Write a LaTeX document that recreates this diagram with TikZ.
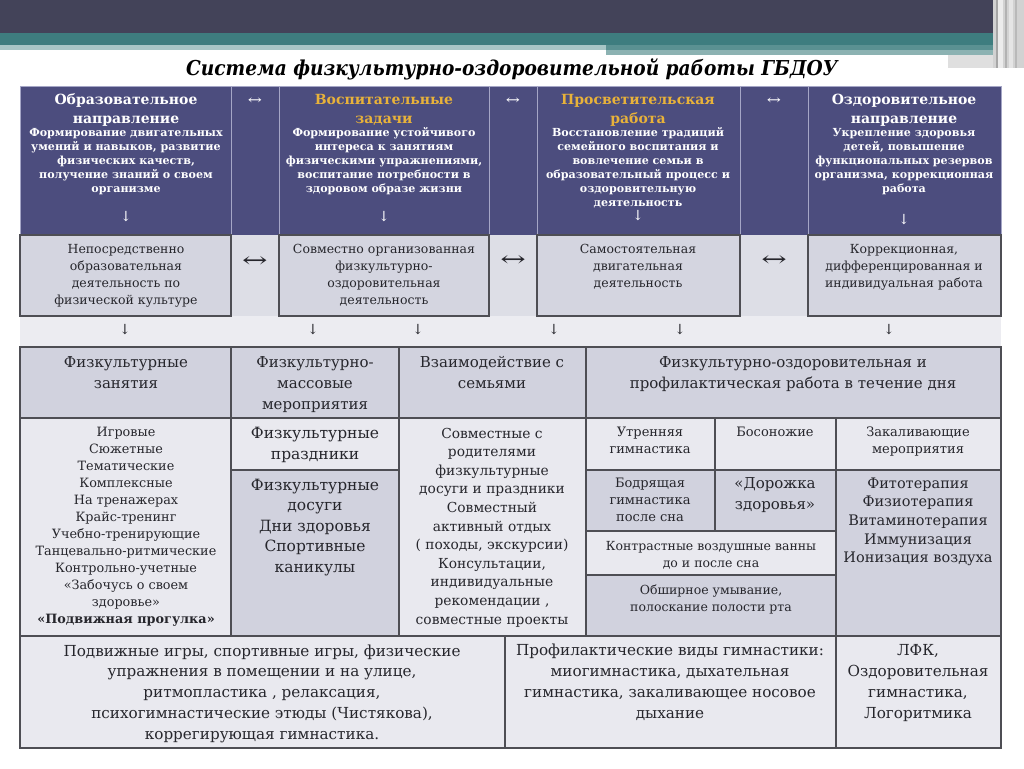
\documentclass[tikz,border=0pt]{standalone}
\usepackage{fontspec}
\setmainfont{DejaVu Serif}
\definecolor{darkbar}{RGB}{67,67,89}
\definecolor{tealD}{RGB}{62,125,127}
\definecolor{tealL}{RGB}{168,198,198}
\definecolor{tealM}{RGB}{140,178,178}
\definecolor{purp}{RGB}{76,77,126}
\definecolor{purpline}{RGB}{165,166,198}
\definecolor{gold}{RGB}{232,178,58}
\definecolor{cellA}{RGB}{212,213,224}
\definecolor{cellB}{RGB}{233,233,239}
\definecolor{cellC}{RGB}{209,210,222}
\definecolor{arrowbg}{RGB}{236,236,241}
\definecolor{gapbg}{RGB}{221,222,230}
\definecolor{bord}{RGB}{78,78,84}
\definecolor{ink}{RGB}{38,38,44}
\newcommand\fsz[2]{\fontsize{#1}{#2}\selectfont}
\newcommand\cellbox[6]{\node[#6, minimum width={(#4-#2)*1pt}, minimum height={(#5-#3)*1pt}, anchor=north west] (#1) at (#2,#3) {};}
\tikzset{
  pcell/.style={fill=purp, draw=purpline, line width=0.9pt, inner sep=0pt, outer sep=0pt},
  gcell/.style={fill=gapbg, inner sep=0pt, outer sep=0pt},
  acell/.style={fill=cellA, draw=bord, line width=1.2pt, inner sep=0pt, outer sep=0pt},
  lcell/.style={fill=cellB, draw=bord, line width=1.2pt, inner sep=0pt, outer sep=0pt},
  dcell/.style={fill=cellC, draw=bord, line width=1.2pt, inner sep=0pt, outer sep=0pt},
  tx/.style={anchor=base, align=center, inner sep=0pt, text=ink},
  hwhite/.style={tx, text=white, font=\fsz{14}{19}\bfseries},
  hgold/.style={tx, text=gold, font=\fsz{14}{19}\bfseries},
  hsub/.style={tx, text=white, font=\fsz{11.1}{14}\bfseries},
  harw/.style={tx, text=white, font=\fsz{14}{16}},
  rtwo/.style={tx, font=\fsz{12.5}{17}},
  rarw/.style={tx, font=\fsz{21}{22}},
  darw/.style={tx, font=\fsz{14}{16}},
  rhead/.style={tx, font=\fsz{15}{21}},
}
\begin{document}
\begin{tikzpicture}[x=1pt,y=-1pt]
\useasboundingbox (0,0) rectangle (1024,768);
\fill[white] (0,0) rectangle (1024,768);
% top decoration
\fill[darkbar] (0,0) rectangle (1024,33);
\fill[tealD] (0,33) rectangle (1024,45);
\fill[tealL] (0,45) rectangle (606,50);
\fill[tealD!85!white] (606,45) rectangle (1024,50);
\fill[tealM] (606,50) rectangle (1006,55);
\fill[white] (606,55) rectangle (948,58);
\fill[gray!25] (948,55) rectangle (1006,68);
\fill[gray!35] (993,0) rectangle (1024,68);
\fill[gray!70] (996,0) rectangle (998,68);
\fill[gray!15] (998,0) rectangle (1003,68);
\fill[gray!60] (1005,0) rectangle (1007,68);
\fill[gray!20] (1009,0) rectangle (1013,68);
\fill[gray!55] (1015,0) rectangle (1017,68);
% title
\node[tx, text=black, font=\fsz{20.5}{24}\bfseries\itshape] (title) at (512,75) {\scalebox{0.905}[1]{Система физкультурно-оздоровительной работы ГБДОУ}};
% row 1
\cellbox{p1}{20}{86}{231}{235}{pcell}
\cellbox{p1a}{231}{86}{279}{235}{pcell}
\cellbox{p2}{279}{86}{489}{235}{pcell}
\cellbox{p2a}{489}{86}{537}{235}{pcell}
\cellbox{p3}{537}{86}{740}{235}{pcell}
\cellbox{p3a}{740}{86}{808}{235}{pcell}
\cellbox{p4}{808}{86}{1001}{235}{pcell}
\node[hwhite] (h1) at (126,123) {Образовательное\\направление};
\node[hsub] (s1) at (126,192) {Формирование двигательных\\умений и навыков, развитие\\физических качеств,\\получение знаний о своем\\организме};
\node[harw] (d1) at (126,221) {↓};
\node[hgold] (h2) at (384,123) {Воспитательные\\задачи};
\node[hsub] (s2) at (384,192) {Формирование устойчивого\\интереса к занятиям\\физическими упражнениями,\\воспитание потребности в\\здоровом образе жизни};
\node[harw] (d2) at (384,221) {↓};
\node[hgold] (h3) at (638,123) {Просветительская\\работа};
\node[hsub] (s3) at (638,206) {Восстановление традиций\\семейного воспитания и\\вовлечение семьи в\\образовательный процесс и\\оздоровительную\\деятельность};
\node[harw] (d3) at (638,220) {↓};
\node[hwhite] (h4) at (904,123) {Оздоровительное\\направление};
\node[hsub] (s4) at (904,192) {Укрепление здоровья\\детей, повышение\\функциональных резервов\\организма, коррекционная\\работа};
\node[harw] (d4) at (904,224) {↓};
\node[harw, font=\fsz{13}{15}] (x1) at (255,104) {\scalebox{1.3}[1]{↔}};
\node[harw, font=\fsz{13}{15}] (x2) at (513,104) {\scalebox{1.3}[1]{↔}};
\node[harw, font=\fsz{13}{15}] (x3) at (774,104) {\scalebox{1.3}[1]{↔}};
% arrow row and gaps
\cellbox{arow}{20}{316}{1001}{346}{gcell, fill=arrowbg}
\cellbox{g1}{231}{235}{279}{316}{gcell}
\cellbox{g2}{489}{235}{537}{316}{gcell}
\cellbox{g3}{740}{235}{808}{316}{gcell}
% row 2
\cellbox{r1}{20}{235}{231}{316}{acell}
\cellbox{r2}{279}{235}{489}{316}{acell}
\cellbox{r3}{537}{235}{740}{316}{acell}
\cellbox{r4}{808}{235}{1001}{316}{acell}
\node[rtwo] (q1) at (126,304) {Непосредственно\\образовательная\\деятельность по\\физической  культуре};
\node[rtwo] (q2) at (384,304) {Совместно организованная\\физкультурно-\\оздоровительная\\деятельность};
\node[rtwo] (q3) at (638,287) {Самостоятельная\\двигательная\\деятельность};
\node[rtwo] (q4) at (904,287) {Коррекционная,\\дифференцированная  и\\индивидуальная работа};
\node[rarw] (y1) at (255,267) {\scalebox{1.45}[1]{↔}};
\node[rarw] (y2) at (513,266) {\scalebox{1.45}[1]{↔}};
\node[rarw] (y3) at (774,266) {\scalebox{1.45}[1]{↔}};
% down arrows
\node[darw] (z1) at (125,334) {↓};
\node[darw] (z2) at (313,334) {↓};
\node[darw] (z3) at (418,334) {↓};
\node[darw] (z4) at (554,334) {↓};
\node[darw] (z5) at (680,334) {↓};
\node[darw] (z6) at (889,334) {↓};
% row 3 header
\cellbox{k1}{20}{347}{231}{418}{dcell}
\cellbox{k2}{231}{347}{399}{418}{dcell}
\cellbox{k3}{399}{347}{586}{418}{dcell}
\cellbox{k4}{586}{347}{1001}{418}{dcell}
\node[rhead] (m1) at (126,388) {Физкультурные\\занятия};
\node[rhead] (m2) at (315,409) {Физкультурно-\\массовые\\мероприятия};
\node[rhead] (m3) at (492,388) {Взаимодействие с\\семьями};
\node[rhead] (m4) at (793,388) {Физкультурно-оздоровительная и\\профилактическая работа  в течение дня};
% row 3 body
\cellbox{b1}{20}{418}{231}{636}{lcell}
\cellbox{b2}{231}{418}{399}{470}{lcell}
\cellbox{b3}{231}{470}{399}{636}{dcell}
\cellbox{b4}{399}{418}{586}{636}{lcell}
\cellbox{c1}{586}{418}{715}{470}{lcell}
\cellbox{c2}{715}{418}{836}{470}{lcell}
\cellbox{c3}{836}{418}{1001}{470}{lcell}
\cellbox{c4}{586}{470}{715}{531}{dcell}
\cellbox{c5}{715}{470}{836}{531}{dcell}
\cellbox{c6}{836}{470}{1001}{636}{dcell}
\cellbox{c7}{586}{531}{836}{575}{lcell}
\cellbox{c8}{586}{575}{836}{636}{dcell}
\node[tx, font=\fsz{12.8}{17}] (w1) at (126,623.5) {Игровые\\Сюжетные\\Тематические\\Комплексные\\На тренажерах\\Крайс-тренинг\\Учебно-тренирующие\\Танцевально-ритмические\\Контрольно-учетные\\«Забочусь о своем\\здоровье»\\\textbf{«Подвижная прогулка»}};
\node[tx, font=\fsz{15.5}{21}] (w2) at (315,459) {Физкультурные\\праздники};
\node[tx, font=\fsz{15.5}{20.5}] (w3) at (315,572) {Физкультурные\\досуги\\Дни здоровья\\Спортивные\\каникулы};
\node[tx, font=\fsz{13.8}{18.6}] (w4) at (492,624) {Совместные с\\родителями\\физкультурные\\досуги и праздники\\Совместный\\активный отдых\\( походы, экскурсии)\\Консультации,\\индивидуальные\\рекомендации  ,\\совместные проекты};
\node[tx, font=\fsz{13}{17}] (v1) at (650,453.5) {Утренняя\\гимнастика};
\node[tx, font=\fsz{13}{17}] (v2) at (775,436.5) {Босоножие};
\node[tx, font=\fsz{13}{17}] (v3) at (918,453.5) {Закаливающие\\мероприятия};
\node[tx, font=\fsz{13}{17}] (v4) at (650,521.5) {Бодрящая\\гимнастика\\после сна};
\node[tx, font=\fsz{15}{21}] (v5) at (775,509) {«Дорожка\\здоровья»};
\node[tx, font=\fsz{14.5}{18.7}] (v6) at (918,562.8) {Фитотерапия\\Физиотерапия\\Витаминотерапия\\Иммунизация\\Ионизация  воздуха};
\node[tx, font=\fsz{12.5}{17}] (v7) at (711,567.5) {Контрастные воздушные ванны\\до и после сна};
\node[tx, font=\fsz{12.5}{17}] (v8) at (711,611.5) {Обширное  умывание,\\полоскание полости рта};
% bottom row
\cellbox{e1}{20}{636}{505}{748}{lcell}
\cellbox{e2}{505}{636}{836}{748}{lcell}
\cellbox{e3}{836}{636}{1001}{748}{lcell}
\node[tx, font=\fsz{15.2}{20.75}] (u1) at (262,739) {Подвижные игры, спортивные игры,  физические\\упражнения  в помещении и на улице,\\ритмопластика , релаксация,\\психогимнастические  этюды (Чистякова),\\коррегирующая гимнастика.};
\node[tx, font=\fsz{15.2}{21}] (u2) at (670,718) {Профилактические виды гимнастики:\\миогимнастика,  дыхательная\\гимнастика, закаливающее носовое\\дыхание};
\node[tx, font=\fsz{15.2}{21}] (u3) at (918,718) {ЛФК,\\Оздоровительная\\гимнастика,\\Логоритмика};
\end{tikzpicture}
\end{document}
